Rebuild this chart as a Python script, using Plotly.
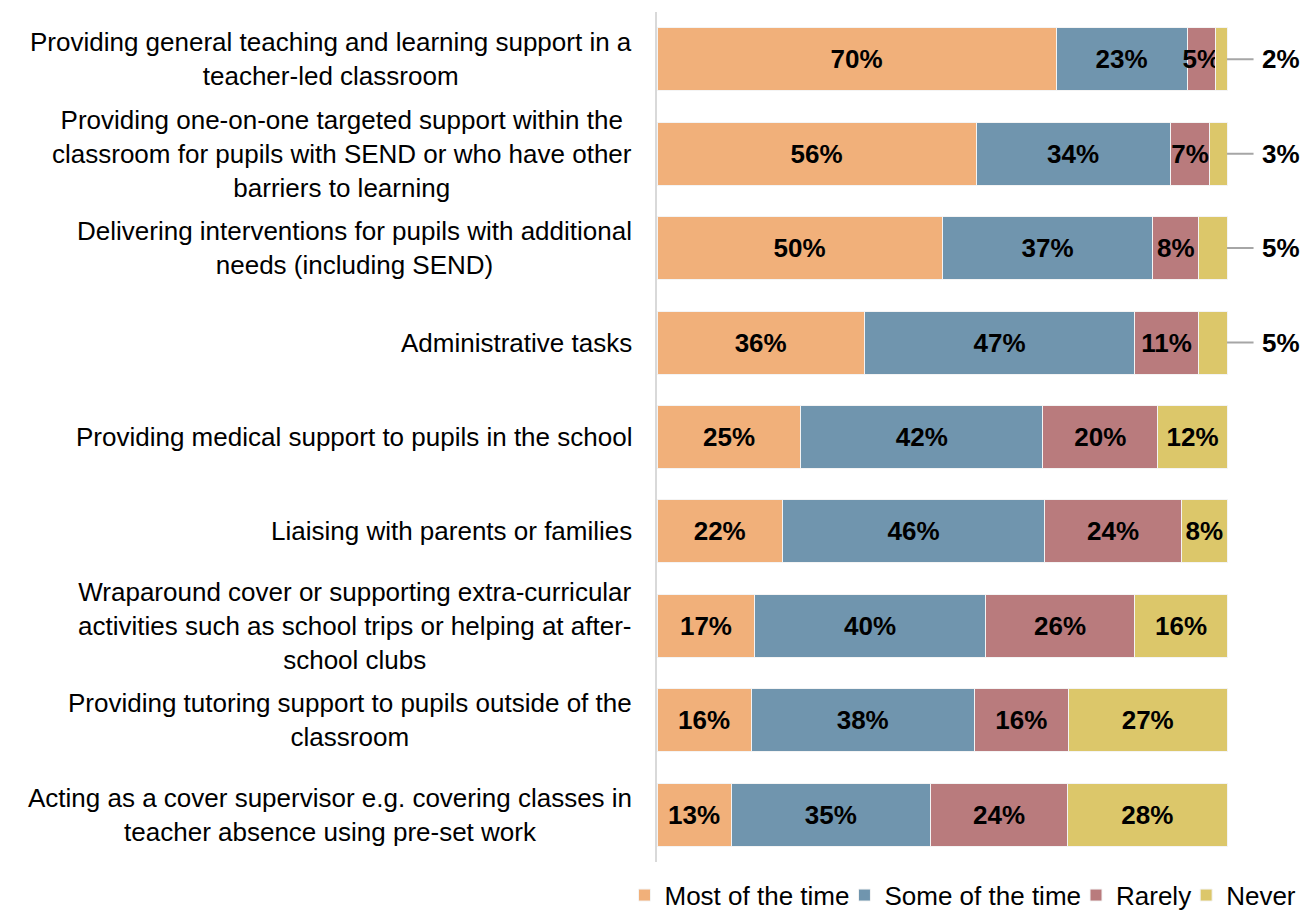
import plotly.graph_objects as go

# Activities (top to bottom) and share of responses per frequency
categories = [
    "Providing general teaching and learning support in a<br>teacher-led classroom",
    "Providing one-on-one targeted support within the<br>classroom for pupils with SEND or who have other<br>barriers to learning",
    "Delivering interventions for pupils with additional<br>needs (including SEND)",
    "Administrative tasks",
    "Providing medical support to pupils in the school",
    "Liaising with parents or families",
    "Wraparound cover or supporting extra-curricular<br>activities such as school trips or helping at after-<br>school clubs",
    "Providing tutoring support to pupils outside of the<br>classroom",
    "Acting as a cover supervisor e.g. covering classes in<br>teacher absence using pre-set work",
]
most_of_the_time = [70, 56, 50, 36, 25, 22, 17, 16, 13]
some_of_the_time = [23, 34, 37, 47, 42, 46, 40, 38, 35]
rarely = [5, 7, 8, 11, 20, 24, 26, 16, 24]
never = [2, 3, 5, 5, 12, 8, 16, 27, 28]

series = [
    ("Most of the time", most_of_the_time, "#F1B07A"),
    ("Some of the time", some_of_the_time, "#7095AE"),
    ("Rarely", rarely, "#B97B7D"),
    ("Never", never, "#DCC76A"),
]

FONT = "Liberation Sans, Arial, sans-serif"
OUTSIDE_BELOW = 8  # "Never" values under this are labelled outside the bar

fig = go.Figure()
for name, vals, color in series:
    if name == "Never":
        labels = [f"{v}%" if v >= OUTSIDE_BELOW else "" for v in vals]
    else:
        labels = [f"{v}%" for v in vals]
    fig.add_trace(go.Bar(
        name=name,
        y=categories,
        x=vals,
        orientation="h",
        marker=dict(color=color, line=dict(color="#F4F4F4", width=1)),
        text=labels,
        textposition="inside",
        insidetextanchor="middle",
        textangle=0,
        constraintext="none",
        textfont=dict(family=FONT, size=26, color="black", weight="bold"),
    ))

# Small "Never" shares: value label to the right with a leader line
for cat, v in zip(categories, never):
    if v < OUTSIDE_BELOW:
        fig.add_annotation(
            x=100, y=cat, xref="x", yref="y",
            text=f"<b>{v}%</b>",
            showarrow=True, arrowhead=0, arrowwidth=2, arrowcolor="#A6A6A6",
            ax=54, ay=0, standoff=0, startstandoff=7,
            font=dict(family=FONT, size=26, color="black"),
            xanchor="center",
        )

# Category labels, right-aligned block with centred lines
for cat in categories:
    fig.add_annotation(
        x=-0.035, y=cat, xref="paper", yref="y",
        text=cat, showarrow=False,
        xanchor="right", align="center",
        font=dict(family=FONT, size=26, color="black"),
    )

fig.update_layout(
    width=1303, height=911,
    barmode="stack", barnorm="percent", bargap=0.333,
    plot_bgcolor="white", paper_bgcolor="white",
    margin=dict(l=657, r=3, t=12, b=49, autoexpand=False),
    font=dict(family=FONT, size=26, color="black"),
    showlegend=True,
    legend=dict(
        orientation="h",
        x=-0.035, xanchor="left",
        y=-0.039, yanchor="middle",
        font=dict(family=FONT, size=26, color="black"),
        itemwidth=30, indentation=-10,
        traceorder="normal", bgcolor="rgba(0,0,0,0)",
    ),
    xaxis=dict(range=[0, 112.8], visible=False, fixedrange=True),
    yaxis=dict(
        autorange="reversed", showticklabels=False, ticks="",
        showline=True, linecolor="#D9D9D9", linewidth=2,
        showgrid=False, zeroline=False,
    ),
)

fig.write_html("out.html")
